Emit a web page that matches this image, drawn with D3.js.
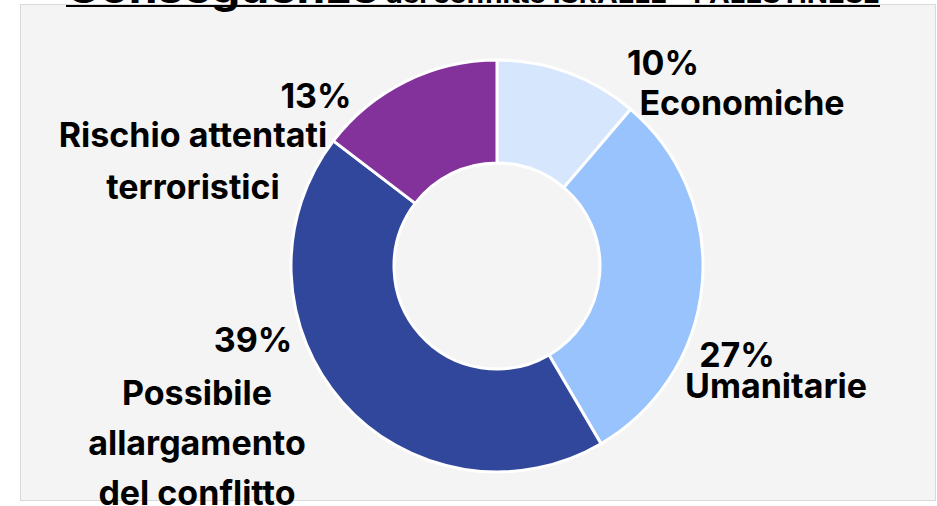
<!DOCTYPE html>
<html>
<head>
<meta charset="utf-8">
<script src="https://cdn.jsdelivr.net/npm/d3@7"></script>
<style>
  body { margin: 0; background: #fff; }
  svg { display: block; font-family: Inter, Roboto, "Noto Sans", sans-serif; }
</style>
</head>
<body>
<svg id="chart" width="937" height="506"></svg>
<script>
// data
var categories = ["Economiche", "Umanitarie", "Possibile allargamento del conflitto", "Rischio attentati terroristici"];
var values = [10, 27, 39, 13];
var colors = ["#d6e6fd", "#99c3fd", "#31479c", "#84329b"];

// label lines as shown in the chart
var labelLines = [
  ["Economiche"],
  ["Umanitarie"],
  ["Possibile", "allargamento", "del conflitto"],
  ["Rischio attentati", "terroristici"]
];

// where each label sits (percent anchor, name anchor, line gap)
var labelLayout = [
  { px: 663, py: 75, nx: 742, ny: 115, gap: 50 },
  { px: 737, py: 367, nx: 776, ny: 398, gap: 50 },
  { px: 253, py: 352, nx: 197, ny: 405, gap: 50 },
  { px: 316, py: 108, nx: 193, ny: 147, gap: 52 }
];

var svg = d3.select("#chart"),
  width = +svg.attr("width"),
  height = +svg.attr("height");

// plot area background
svg.append("rect")
  .attr("x", 20.5).attr("y", 4.5)
  .attr("width", 915).attr("height", 496)
  .attr("fill", "#f4f4f4")
  .attr("stroke", "#d9d9d9")
  .attr("stroke-width", 1);

// title (mostly cut off at the top)
var title = svg.append("text")
  .attr("x", 66).attr("y", 3)
  .attr("font-weight", 700)
  .attr("fill", "#000");
title.append("tspan").attr("font-size", 40).text("Conseguenze");
title.append("tspan").attr("font-size", 24).text(" del conflitto ISRAELE - PALESTINESE");
title.attr("textLength", 814).attr("lengthAdjust", "spacingAndGlyphs");

svg.append("line")
  .attr("x1", 66).attr("x2", 880)
  .attr("y1", 6).attr("y2", 6)
  .attr("stroke", "#000").attr("stroke-width", 2);

// donut
var cx = 497, cy = 266, outerR = 206, innerR = 103;

var pie = d3.pie().sort(null).value(d => d);
var arc = d3.arc().innerRadius(innerR).outerRadius(outerR);

var g = svg.append("g").attr("transform", `translate(${cx},${cy})`);

g.selectAll("path")
  .data(pie(values))
  .join("path")
  .attr("d", arc)
  .attr("fill", (d, i) => colors[i])
  .attr("stroke", "#fff")
  .attr("stroke-width", 3)
  .attr("stroke-linejoin", "round");

// labels
var fontSize = 34;

labelLayout.forEach((l, i) => {
  svg.append("text")
    .attr("x", l.px).attr("y", l.py)
    .attr("text-anchor", "middle")
    .attr("font-size", fontSize).attr("font-weight", 700)
    .text(values[i] + "%");

  labelLines[i].forEach((line, j) => {
    svg.append("text")
      .attr("x", l.nx).attr("y", l.ny + j * l.gap)
      .attr("text-anchor", "middle")
      .attr("font-size", fontSize).attr("font-weight", 700)
      .text(line);
  });
});
</script>
</body>
</html>
